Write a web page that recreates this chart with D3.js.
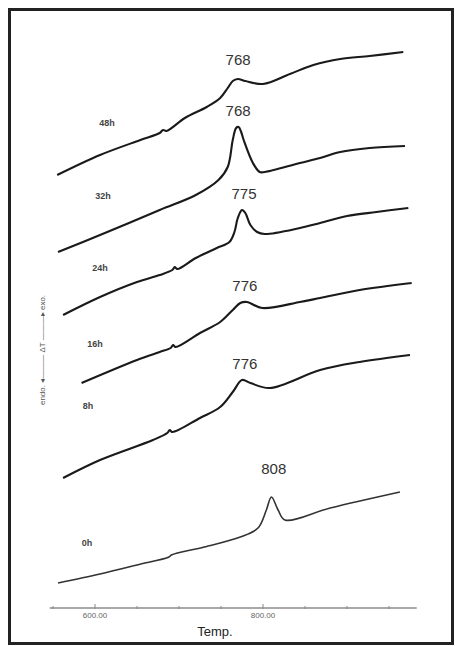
<!DOCTYPE html>
<html>
<head>
<meta charset="utf-8">
<script src="https://cdn.jsdelivr.net/npm/d3@7"></script>
<style>
  html, body { margin: 0; padding: 0; background: #fff; }
  svg { display: block; font-family: "Liberation Sans", Arial, sans-serif; }
</style>
</head>
<body>
<svg id="chart" width="455" height="646"></svg>
<script>
// DTA traces, temperature vs signal (arbitrary units)
var times = ["48h", "32h", "24h", "16h", "8h", "0h"];
var peaks = ["768", "768", "775", "776", "776", "808"];

var t48 = [[555,445],[606,465],[654,480],[677,487],[681,490],[685,489],[707,502],[733,513],[749,522],[758,532],[764,539],[770,541],[779,539],[800,536],[832,546],[860,555],[892,561],[927,564],[967,568]];
var t32 = [[556,368],[606,385],[677,410],[720,425],[747,440],[758,453],[764,480],[768,492],[771,493],[774,488],[777,480],[788,457],[796,448],[802,448],[844,457],[868,462],[892,468],[927,472],[969,474]];
var t24 = [[562,305],[606,323],[650,338],[677,345],[692,350],[695,353],[698,351],[720,362],[745,372],[760,378],[766,388],[770,402],[775,410],[779,407],[785,395],[793,388],[802,386],[844,392],[868,397],[900,404],[935,408],[973,412]];
var t16 = [[584,237],[650,260],[677,268],[690,272],[693,275],[696,273],[725,287],[749,298],[764,310],[773,317],[781,318],[799,312],[844,318],[868,322],[915,330],[977,337]];
var t8  = [[562,142],[606,160],[669,180],[686,187],[689,190],[692,188],[725,202],[749,213],[764,228],[775,240],[785,237],[808,232],[868,250],[915,258],[975,265]];
var t0  = [[556,37],[606,46],[650,55],[688,63],[691,65],[730,73],[773,83],[794,92],[804,110],[810,123],[818,110],[826,100],[880,112],[963,128]];

var tickVals = [550,600,650,700,750,800,850,900,950];
var tickLabels = {600: "600.00", 800: "800.00"};

var series = [t48, t32, t24, t16, t8, t0];
// label placement (layout only)
var labelXY = [[107,126],[103,199],[100,271],[95,347],[88,409],[87,546]];
var peakGap = [14, 11, 11, 11, 11, 23];

var svg = d3.select("#chart");

var x = d3.scaleLinear().domain([600, 800]).range([95, 263]);
var y = d3.scaleLinear().domain([0, 600]).range([620, 20]);

// frame
svg.append("rect")
  .attr("x", 9.5).attr("y", 9.5)
  .attr("width", 443).attr("height", 634)
  .attr("fill", "none").attr("stroke", "#222").attr("stroke-width", 3);

// x axis
var axisY = 608;
svg.append("line")
  .attr("x1", x(546)).attr("x2", x(983))
  .attr("y1", axisY).attr("y2", axisY)
  .attr("stroke", "#555").attr("stroke-width", 1.2);

svg.selectAll(".tick")
  .data(tickVals).enter().append("line")
  .attr("x1", d => x(d)).attr("x2", d => x(d))
  .attr("y1", d => tickLabels[d] ? axisY - 4 : axisY - 2)
  .attr("y2", axisY + 1)
  .attr("stroke", "#888").attr("stroke-width", 1);

svg.selectAll(".ticklab")
  .data(tickVals.filter(d => tickLabels[d])).enter().append("text")
  .attr("x", d => x(d)).attr("y", axisY + 10)
  .attr("text-anchor", "middle")
  .attr("font-size", 8).attr("fill", "#666")
  .text(d => tickLabels[d]);

svg.append("text")
  .attr("x", 215).attr("y", 636)
  .attr("text-anchor", "middle")
  .attr("font-size", 13).attr("fill", "#222")
  .text("Temp.");

// y label
svg.append("text")
  .attr("transform", "translate(45,350) rotate(-90)")
  .attr("text-anchor", "middle")
  .attr("font-size", 8).attr("fill", "#555")
  .text("endo. \u25C2\u2014\u2014\u2014 \u0394T \u2014\u2014\u2014\u25B8 exo.");

var line = d3.line()
  .x(d => x(d[0]))
  .y(d => y(d[1]))
  .curve(d3.curveCatmullRom.alpha(0.5));

svg.selectAll(".trace")
  .data(series).enter().append("path")
  .attr("d", line)
  .attr("fill", "none")
  .attr("stroke", (d, i) => i == 5 ? "#333" : "#1a1a1a")
  .attr("stroke-width", (d, i) => i == 5 ? 1.6 : 2.1)
  .attr("stroke-linejoin", "round");

// peak labels, set above the local max near the peak temperature
series.forEach(function(s, i) {
  var t = +peaks[i];
  var near = s.filter(p => Math.abs(p[0] - t) < 12);
  var top = d3.max(near, p => p[1]);
  svg.append("text")
    .attr("x", x(t) + (i == 5 ? 4 : 2)).attr("y", y(top) - peakGap[i])
    .attr("text-anchor", "middle")
    .attr("font-size", 15).attr("fill", "#333")
    .text(peaks[i]);
});

svg.selectAll(".tlab")
  .data(times).enter().append("text")
  .attr("x", (d, i) => labelXY[i][0]).attr("y", (d, i) => labelXY[i][1])
  .attr("text-anchor", "middle")
  .attr("font-size", 9).attr("font-weight", "bold").attr("fill", "#444")
  .text(d => d);
</script>
</body>
</html>
